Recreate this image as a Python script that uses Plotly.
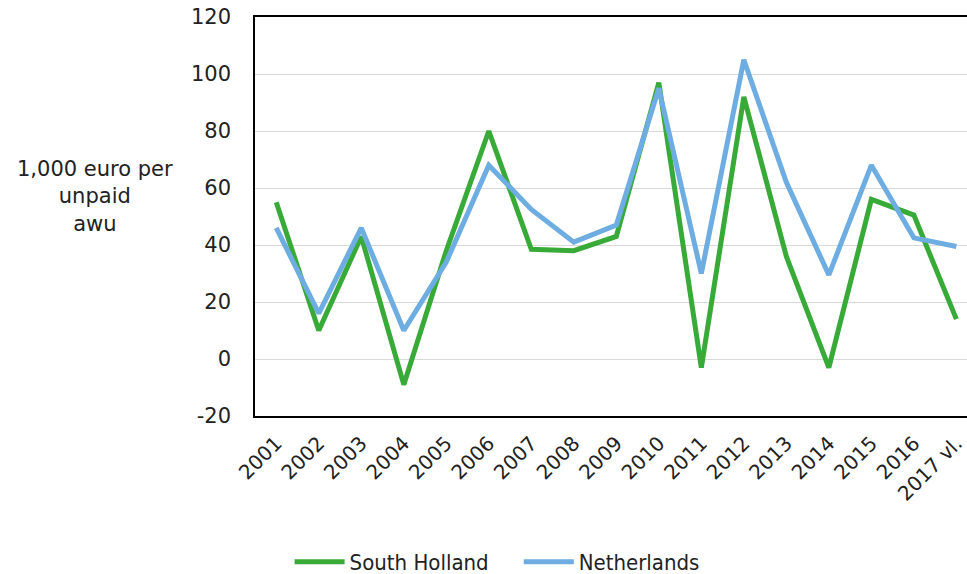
import plotly.graph_objects as go

# Income per unpaid annual work unit (1,000 euro)
years = ["2001", "2002", "2003", "2004", "2005", "2006", "2007", "2008", "2009",
         "2010", "2011", "2012", "2013", "2014", "2015", "2016", "2017 vl."]
south_holland = [55, 10, 43, -9, 38, 80, 38.5, 38, 43, 97, -3, 92, 36, -3, 56, 50.5, 14]
netherlands = [46, 16, 46, 10, 34, 68, 52.5, 41, 47, 95, 30, 105, 62, 29.5, 68, 42.5, 39.5]
y_ticks = [-20, 0, 20, 40, 60, 80, 100, 120]

GREEN = "#38AA38"
BLUE = "#6DADE2"
FONT = "DejaVu Sans"

fig = go.Figure()
fig.add_trace(go.Scatter(x=list(range(len(years))), y=south_holland, mode="lines",
                         name="South Holland    ", line=dict(color=GREEN, width=5)))
fig.add_trace(go.Scatter(x=list(range(len(years))), y=netherlands, mode="lines",
                         name="Netherlands", line=dict(color=BLUE, width=5)))

fig.update_layout(
    width=967, height=574,
    margin=dict(l=255, r=0, t=17, b=158, autoexpand=False),
    paper_bgcolor="white", plot_bgcolor="white",
    font=dict(family=FONT, color="#222222", size=21),
    showlegend=True,
    legend=dict(orientation="h", xref="paper", yref="paper",
                x=0.34, xanchor="center", y=-0.366, yanchor="middle",
                font=dict(family="DejaVu Sans Condensed, " + FONT, size=22),
                bgcolor="rgba(0,0,0,0)",
                itemwidth=50, tracegroupgap=0),
)
fig.update_xaxes(
    range=[-0.5, 16.25],
    tickmode="array", tickvals=list(range(len(years))), ticktext=years,
    tickangle=-45, showgrid=False, zeroline=False,
    showline=True, linecolor="black", linewidth=1.5, mirror=True,
    ticklabelstandoff=6, tickfont=dict(size=20), automargin=False,
)
fig.update_yaxes(
    range=[-20, 120], tickmode="array", tickvals=y_ticks,
    ticktext=[str(v) for v in y_ticks],
    showgrid=True, gridcolor="#D9D9D9", gridwidth=1, zeroline=False,
    showline=True, linecolor="black", linewidth=1.5, mirror=True,
    ticklabelstandoff=18, tickfont=dict(size=21), automargin=False,
)
fig.add_annotation(
    text="1,000 euro per<br>unpaid<br>awu", xref="paper", yref="paper",
    x=-0.225, y=0.551, xanchor="center", yanchor="middle", showarrow=False,
    align="center", font=dict(size=21),
)

fig.write_html("out.html")
